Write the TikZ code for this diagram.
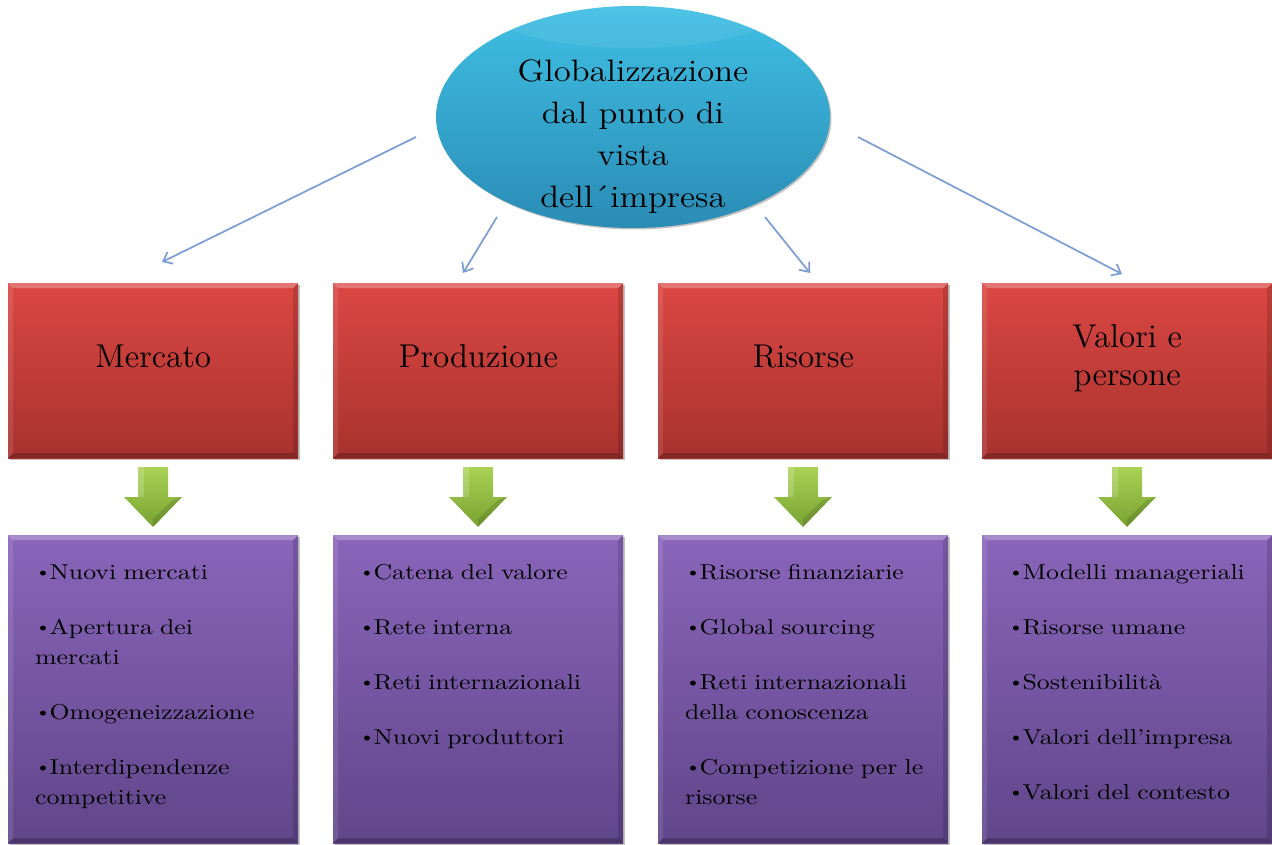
\documentclass[tikz,border=0pt]{standalone}
\usepackage{fontspec}
\usetikzlibrary{shapes.geometric,arrows.meta,shadows}

% text faces
\newfontfamily\widefont{lmroman10-regular.otf}[FakeStretch=1.2]
\newfontfamily\globefont{lmroman12-regular.otf}[FakeStretch=1.12]
\newfontfamily\headfont{lmroman12-regular.otf}

\newcommand\bul{\raisebox{2pt}{\fontsize{17}{17}\selectfont\textbullet}\hspace{-1.5pt}}

% palette
\definecolor{redtop}{HTML}{DB4743}
\definecolor{redbot}{HTML}{A8322E}
\definecolor{purtop}{HTML}{8A65BA}
\definecolor{purbot}{HTML}{60468A}
\definecolor{globetop}{HTML}{40BFE4}
\definecolor{globebot}{HTML}{2A8CB5}
\definecolor{greentop}{HTML}{AAD254}
\definecolor{greenbot}{HTML}{78A332}
\definecolor{linkblue}{HTML}{7A9DD3}

\tikzset{
  bevel/.style={path picture={
    \fill[white,opacity=.25] (path picture bounding box.north west) -- (path picture bounding box.north east)
       -- ([shift={(-5pt,-5pt)}]path picture bounding box.north east) -- ([shift={(5pt,-5pt)}]path picture bounding box.north west) -- cycle;
    \fill[white,opacity=.10] (path picture bounding box.north west) -- ([shift={(5pt,-5pt)}]path picture bounding box.north west)
       -- ([shift={(5pt,5pt)}]path picture bounding box.south west) -- (path picture bounding box.south west) -- cycle;
    \fill[black,opacity=.14] (path picture bounding box.north east) -- (path picture bounding box.south east)
       -- ([shift={(-5pt,5pt)}]path picture bounding box.south east) -- ([shift={(-5pt,-5pt)}]path picture bounding box.north east) -- cycle;
    \fill[black,opacity=.22] (path picture bounding box.south west) -- (path picture bounding box.south east)
       -- ([shift={(-5pt,5pt)}]path picture bounding box.south east) -- ([shift={(5pt,5pt)}]path picture bounding box.south west) -- cycle;
  }},
  softshadow/.style={drop shadow={shadow xshift=1.5pt,shadow yshift=-1.5pt,opacity=.35,fill=black!70}},
  headbox/.style={rectangle,anchor=north west,minimum width=290pt,minimum height=175pt,inner sep=0pt,
    top color=redtop,bottom color=redbot,bevel,softshadow},
  listbox/.style={rectangle,anchor=north west,minimum width=290pt,minimum height=308pt,inner sep=0pt,
    top color=purtop,bottom color=purbot,bevel,softshadow},
  headtext/.style={align=center,inner sep=0pt,font=\headfont\fontsize{33}{38}\selectfont},
  listtext/.style={anchor=base west,align=left,text width=265pt,inner sep=0pt,
    font=\widefont\fontsize{21.5}{30}\selectfont},
  globe/.style={ellipse,minimum width=394pt,minimum height=222pt,inner sep=0pt,
    top color=globetop,bottom color=globebot,softshadow,
    path picture={\fill[white,opacity=.07] ([yshift=-6pt]path picture bounding box.north) ellipse (140pt and 36pt);}},
  globetext/.style={align=center,inner sep=0pt,font=\globefont\fontsize{31}{42}\selectfont},
  link/.style={draw=linkblue,line width=1.7pt,-{Straight Barb[length=8pt,width=13pt,line width=1.7pt]}},
  downarrow/.pic={
    \shade[top color=greentop,bottom color=greenbot]
      (-15,0) -- (15,0) -- (15,30) -- (29,30) -- (0,60) -- (-29,30) -- (-15,30) -- cycle;
    \fill[white,opacity=.18] (-15,0) -- (-9,0) -- (-9,30) -- (-15,30) -- cycle;
    \fill[black,opacity=.12] (29,30) -- (0,60) -- (0,52) -- (20,33) -- cycle;
  }
}

\begin{document}
\begin{tikzpicture}[x=1pt,y=-1pt]
  \useasboundingbox (0,0) rectangle (1272,845);

  % central ellipse
  \node[globe] (glob) at (633,117) {};
  \node[globetext] (globl) at (633,137) {Globalizzazione\\dal punto di\\vista\\dell´impresa};

  % heading boxes
  \node[headbox] (merc) at (8,283) {};
  \node[headbox] (prod) at (333,283) {};
  \node[headbox] (riso) at (658,283) {};
  \node[headbox] (valo) at (982,283) {};
  \node[headtext] (mercl) at ([yshift=14pt]merc.center) {Mercato};
  \node[headtext] (prodl) at ([yshift=14pt]prod.center) {Produzione};
  \node[headtext] (risol) at ([yshift=14pt]riso.center) {Risorse};
  \node[headtext] (valol) at ([yshift=12pt]valo.center) {Valori e\\persone};

  % connectors from the ellipse to the headings
  \coordinate (c1a) at (416,137);  \coordinate (c1b) at (162,262);
  \coordinate (c2a) at (497,217);  \coordinate (c2b) at (463,273);
  \coordinate (c3a) at (765,217);  \coordinate (c3b) at (810,273);
  \coordinate (c4a) at (858,137);  \coordinate (c4b) at (1122,274);
  \draw[link] (c1a) -- (c1b);
  \draw[link] (c2a) -- (c2b);
  \draw[link] (c3a) -- (c3b);
  \draw[link] (c4a) -- (c4b);

  % green arrows
  \pic at (153,467) {downarrow};
  \pic at (478,467) {downarrow};
  \pic at (803,467) {downarrow};
  \pic at (1127,467) {downarrow};

  % detail boxes
  \node[listbox] (mercd) at (8,535) {};
  \node[listbox] (prodd) at (333,535) {};
  \node[listbox] (risod) at (658,535) {};
  \node[listbox] (valod) at (982,535) {};

  \node[listtext] (mercdl) at (35,579) {\bul Nuovi mercati\\[25pt]
    \bul Apertura dei\\mercati\\[25pt]
    \bul Omogeneizzazione\\[25pt]
    \bul Interdipendenze\\competitive};
  \node[listtext] (proddl) at (359,579) {\bul Catena del valore\\[25pt]
    \bul Rete interna\\[25pt]
    \bul Reti internazionali\\[25pt]
    \bul Nuovi produttori};
  \node[listtext] (risodl) at (685,579) {\bul Risorse finanziarie\\[25pt]
    \bul Global sourcing\\[25pt]
    \bul Reti internazionali\\della conoscenza\\[25pt]
    \bul Competizione per le\\risorse};
  \node[listtext] (valodl) at (1008,579) {\bul Modelli manageriali\\[25pt]
    \bul Risorse umane\\[25pt]
    \bul Sostenibilità\\[25pt]
    \bul Valori dell’impresa\\[25pt]
    \bul Valori del contesto};
\end{tikzpicture}
\end{document}
